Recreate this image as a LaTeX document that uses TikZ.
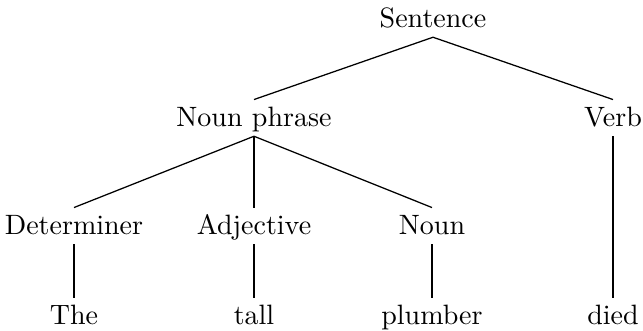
\documentclass[tikz,border=0pt]{standalone}
\usepackage{tikz}
\usetikzlibrary{positioning}

\begin{document}
\begin{tikzpicture}[x=0.357pt, y=-0.357pt,
  every node/.style = { shape=rectangle, anchor=base, inner xsep=1pt,
	inner ysep=2.6pt, text height=7pt, text depth=0.5pt},
  branch/.style = { line width=0.45pt}]

\useasboundingbox (0,0) rectangle (643,331);

% upper levels
\node (sentence) at (433,28) {Sentence};
\node (nounphrase) at (254,127) {Noun phrase};
\node (verb) at (613,127) {Verb};

% word classes
\node (determiner) at (74,235) {Determiner};
\node (adjective) at (254,235) {Adjective};
\node (noun) at (432,235) {Noun};

% words
\node (the) at (74,325) {The};
\node (tall) at (254,325) {tall};
\node (plumber) at (432,325) {plumber};
\node (died) at (613,325) {died};

\foreach \from/\to in {sentence/nounphrase, sentence/verb,
	nounphrase/determiner, nounphrase/adjective, nounphrase/noun,
	determiner/the, adjective/tall, noun/plumber, verb/died}
	\draw[branch] (\from.south) -- (\to.north);
\end{tikzpicture}
\end{document}
